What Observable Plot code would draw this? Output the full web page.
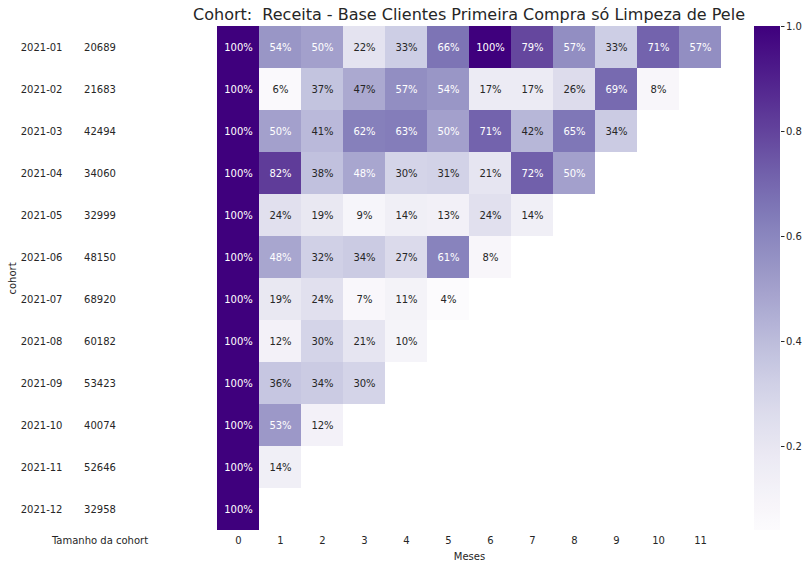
<!DOCTYPE html>
<html>
<head>
<meta charset="utf-8">
<script src="https://cdn.jsdelivr.net/npm/d3@7"></script>
<script src="https://cdn.jsdelivr.net/npm/@observablehq/plot@0.6"></script>
<style>
  body { margin: 0; background: #fff; }
  #chart { position: relative; width: 809px; height: 568px; background: #fff;
           font-family: "DejaVu Sans", sans-serif; color: #262626; }
  #chart svg { position: absolute; top: 0; overflow: visible; }
  #title { position: absolute; top: 5px; left: 169px; width: 600px; text-align: center;
           font-size: 16px; color: #262626; white-space: pre; }
</style>
</head>
<body>
<div id="chart"><div id="title">Cohort:  Receita - Base Clientes Primeira Compra só Limpeza de Pele</div></div>
<script>
// Cohorts (month of first purchase) and their sizes
const cohorts = ["2021-01", "2021-02", "2021-03", "2021-04", "2021-05", "2021-06",
                 "2021-07", "2021-08", "2021-09", "2021-10", "2021-11", "2021-12"];
const cohortSizes = [20689, 21683, 42494, 34060, 32999, 48150,
                     68920, 60182, 53423, 40074, 52646, 32958];

// Months since first purchase
const months = ["0", "1", "2", "3", "4", "5", "6", "7", "8", "9", "10", "11"];

// Revenue retention (%) per cohort, by month
const retentionPct = [
  [100, 54, 50, 22, 33, 66, 100, 79, 57, 33, 71, 57],
  [100, 6, 37, 47, 57, 54, 17, 17, 26, 69, 8],
  [100, 50, 41, 62, 63, 50, 71, 42, 65, 34],
  [100, 82, 38, 48, 30, 31, 21, 72, 50],
  [100, 24, 19, 9, 14, 13, 24, 14],
  [100, 48, 32, 34, 27, 61, 8],
  [100, 19, 24, 7, 11, 4],
  [100, 12, 30, 21, 10],
  [100, 36, 34, 30],
  [100, 53, 12],
  [100, 14],
  [100]
];

// Colorbar ticks
const colorTicks = [0.2, 0.4, 0.6, 0.8, 1.0];

const cells = [];
cohorts.forEach((c, i) => retentionPct[i].forEach((v, j) =>
  cells.push({cohort: c, month: months[j], value: v / 100})));
const sizeRows = cohorts.map((c, i) => ({cohort: c, size: cohortSizes[i]}));

const font = {fontFamily: "DejaVu Sans, sans-serif", fontSize: "10px", color: "#262626", background: "transparent"};
const colorDomain = [0.04, 1];
const ink = "#262626";

// Retention heatmap
const main = Plot.plot({
  width: 809, height: 568,
  marginLeft: 215, marginRight: 86, marginTop: 26, marginBottom: 38,
  style: font,
  x: {type: "band", domain: months, padding: 0, tickSize: 0, tickPadding: 6, label: "Meses", labelAnchor: "center", labelOffset: 29},
  y: {type: "band", domain: cohorts, padding: 0, axis: null},
  color: {type: "linear", scheme: "purples", domain: colorDomain},
  marks: [
    Plot.cell(cells, {x: "month", y: "cohort", fill: "value", inset: 0}),
    Plot.text(cells, {
      x: "month", y: "cohort",
      text: d => `${Math.round(d.value * 100)}%`,
      fill: d => d.value >= 0.475 ? "#ffffff" : ink,
      fontSize: 10
    })
  ]
});

// Cohort labels and cohort sizes
const side = Plot.plot({
  width: 150, height: 568,
  marginLeft: 66, marginRight: 17, marginTop: 26, marginBottom: 38,
  style: font,
  x: {type: "band", domain: ["Tamanho da cohort"], padding: 0, tickSize: 0, tickPadding: 6, label: null},
  y: {type: "band", domain: cohorts, padding: 0, tickSize: 0, tickPadding: 4, label: "cohort", labelAnchor: "center", labelOffset: 58},
  marks: [
    Plot.text(sizeRows, {x: () => "Tamanho da cohort", y: "cohort", text: d => String(d.size), fill: ink, fontSize: 10})
  ]
});

// Colorbar
const cbar = Plot.plot({
  width: 69, height: 568,
  marginLeft: 14, marginRight: 29, marginTop: 26, marginBottom: 38,
  style: font,
  x: {domain: [0, 1], axis: null},
  y: {domain: colorDomain, axis: "right", ticks: colorTicks, tickFormat: ".1f", tickSize: 3.5, tickPadding: 2, label: null},
  marks: [
    Plot.rect([{}], {x1: 0, x2: 1, y1: colorDomain[0], y2: colorDomain[1], fill: "url(#cbar-gradient)"})
  ]
});
const colorScale = main.scale("color");
const ns = "http://www.w3.org/2000/svg";
const defs = document.createElementNS(ns, "defs");
const grad = document.createElementNS(ns, "linearGradient");
grad.setAttribute("id", "cbar-gradient");
grad.setAttribute("x1", "0"); grad.setAttribute("y1", "1");
grad.setAttribute("x2", "0"); grad.setAttribute("y2", "0");
d3.range(0, 1.0001, 0.02).forEach(t => {
  const s = document.createElementNS(ns, "stop");
  s.setAttribute("offset", t);
  s.setAttribute("stop-color", colorScale.apply(colorDomain[0] + t * (colorDomain[1] - colorDomain[0])));
  grad.appendChild(s);
});
defs.appendChild(grad);
cbar.insertBefore(defs, cbar.firstChild);

const chart = document.getElementById("chart");
main.style.left = "0px";
side.style.left = "0px";
cbar.style.left = "740px";
chart.appendChild(main);
chart.appendChild(side);
chart.appendChild(cbar);
</script>
</body>
</html>
